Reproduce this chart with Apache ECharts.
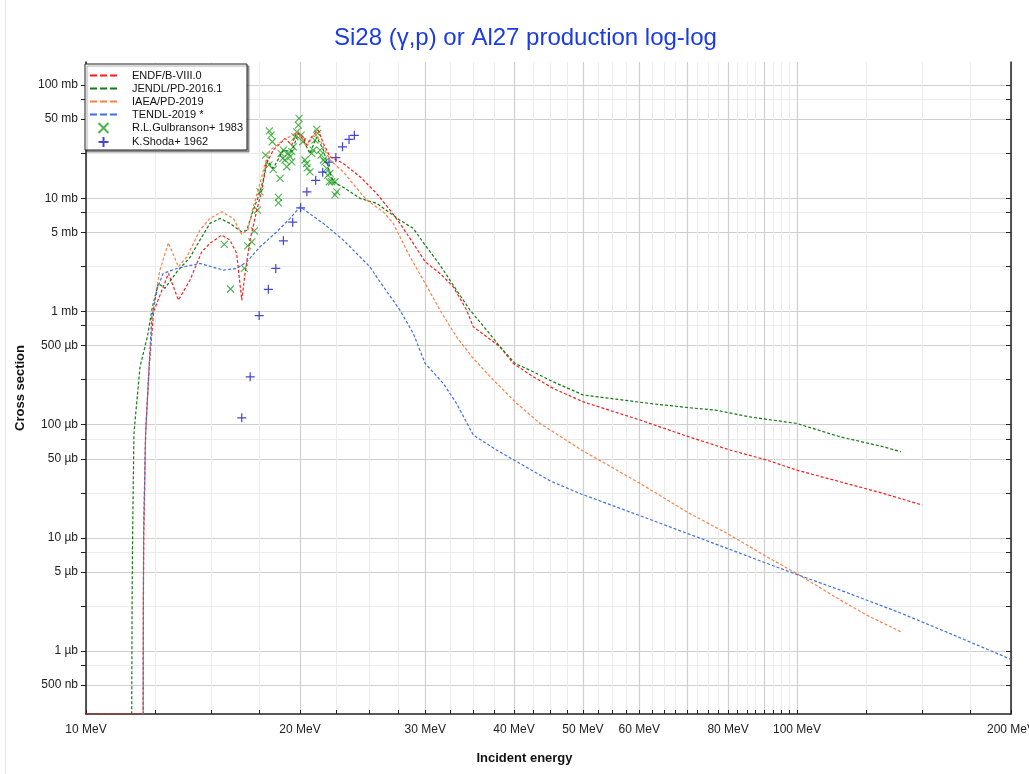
<!DOCTYPE html>
<html>
<head>
<meta charset="utf-8">
<script src="https://cdn.jsdelivr.net/npm/echarts@6/dist/echarts.min.js"></script>
<style>
html,body{margin:0;padding:0;background:#fff;}
#wrap{position:relative;width:1029px;height:774px;}
#chart{width:1029px;height:774px;}
#edge{position:absolute;left:5px;top:0;width:1px;height:774px;background:#e6e6e6;}
</style>
</head>
<body>
<div id="wrap"><div id="chart"></div><div id="edge"></div></div>
<script>
// ---- axis ticks / labels ----
const xLabelVals = [10, 20, 30, 40, 50, 60, 80, 100, 200];
const xMajorGrid = [10, 20, 30, 40, 50, 60, 70, 80, 90, 100, 200];
const xMinorTicks = [10, 12.5, 15, 17.5, 20, 22.5, 25, 27.5, 30, 32.5, 35, 37.5, 40, 42.5, 45, 47.5,
  50, 52.5, 55, 57.5, 60, 62.5, 65, 67.5, 70, 72.5, 75, 77.5, 80, 82.5, 85, 87.5, 90, 92.5, 95, 97.5,
  100, 125, 150, 175, 200];
const yLabelVals = [100, 50, 10, 5, 1, 0.5, 0.1, 0.05, 0.01, 0.005, 0.001, 0.0005];
const yMajorGrid = [100, 50, 10, 5, 1, 0.5, 0.1, 0.05, 0.01, 0.005, 0.001, 0.0005];
const yMinorTicks = [100, 75, 50, 25, 10, 7.5, 5, 2.5, 1, 0.75, 0.5, 0.25, 0.1, 0.075, 0.05, 0.025,
  0.01, 0.0075, 0.005, 0.0025, 0.001, 0.00075, 0.0005];
const xMin = 10, xMax = 200;
const yMin = 0.000278, yMax = 160;   // cross section in mb

// ---- series data: [energy MeV, cross section mb] ----
const endf = [[10, 0.000278], [12.0, 0.000278], [12.03, 0.0001], [12.04, 0.0028], [12.06, 0.011], [12.13, 0.084],
  [12.27, 0.323], [12.45, 1.0], [13.06, 2.17], [13.49, 1.26], [14.0, 1.89], [14.55, 3.37], [14.94, 4.0],
  [15.52, 4.73], [15.94, 4.27], [16.29, 3.26], [16.56, 1.26], [16.74, 2.18], [17.01, 4.27], [17.39, 7.87],
  [17.67, 11.8], [17.95, 20.3], [18.34, 26.7], [18.75, 30.5], [19.05, 33.8], [19.47, 29.5], [19.79, 38.7],
  [20.21, 34.9], [20.43, 29.5], [20.77, 34.9], [21.22, 40.0], [21.57, 30.5], [22.04, 23.3], [23.01, 20.3],
  [24.29, 15.5], [25.64, 11.0], [26.77, 7.87], [27.64, 6.0], [28.86, 4.0], [29.99, 2.75], [31.47, 2.17],
  [32.86, 1.65], [34.3, 1.03], [35.05, 0.733], [36.61, 0.598], [38.22, 0.488], [39.9, 0.348], [42.57, 0.265],
  [45.41, 0.209], [50.05, 0.159], [60.14, 0.110], [69.96, 0.0793], [80.5, 0.0597], [90.7, 0.0487],
  [99.9, 0.0397], [115, 0.0313], [132.3, 0.0247], [150, 0.0195]];
const jendl = [[11.59, 0.0001], [11.61, 0.0028], [11.63, 0.011], [11.68, 0.084], [11.91, 0.323], [12.2, 0.6],
  [12.4, 1.1], [12.64, 1.77], [12.91, 1.6], [13.42, 2.24], [14.0, 3.0], [14.46, 4.27], [14.94, 6.0],
  [15.44, 6.64], [15.94, 6.0], [16.55, 5.06], [16.83, 5.2], [17.19, 7.86], [17.47, 10.3], [17.76, 14.5],
  [17.95, 21.8], [18.34, 18.4], [18.95, 26.7], [19.47, 25.8], [19.89, 37.4], [20.22, 32.7], [20.65, 24.9],
  [21.11, 34.9], [21.57, 26.7], [22.04, 16.6], [22.27, 14.0], [23.01, 12.5], [24.29, 9.98], [25.64, 9.02],
  [27.64, 6.41], [28.86, 5.42], [29.99, 3.86], [31.47, 2.57], [33.2, 1.545], [34.68, 1.028], [36.61, 0.685],
  [38.22, 0.488], [40.13, 0.348], [42.12, 0.303], [45.41, 0.239], [50.05, 0.183], [62.1, 0.154],
  [69.96, 0.142], [77.1, 0.134], [85.9, 0.117], [99.9, 0.1026], [115, 0.0781], [132.3, 0.0638], [140, 0.0576]];
const iaea = [[12.03, 0.0001], [12.05, 0.011], [12.13, 0.084], [12.27, 0.33], [12.4, 0.96], [12.7, 2.3],
  [13.06, 4.05], [13.49, 2.48], [13.86, 3.04], [14.46, 5.24], [14.94, 6.64], [15.52, 7.6], [16.12, 6.64],
  [16.56, 4.8], [16.9, 5.3], [17.19, 8.41], [17.57, 13.5], [17.86, 20.3], [18.15, 26.7], [18.55, 29.5],
  [18.95, 32.7], [19.89, 38.7], [20.43, 28.5], [20.99, 37.4], [21.45, 30.5], [22.04, 21.8], [23.01, 17.1],
  [23.51, 14.5], [24.82, 9.64], [26.19, 7.6], [27.05, 6.0], [27.64, 4.57], [28.56, 3.04], [29.99, 1.77],
  [31.47, 1.028], [33.2, 0.598], [35.05, 0.385], [37.41, 0.248], [40.35, 0.154], [43.5, 0.1026],
  [49.6, 0.0605], [60.14, 0.0303], [69.96, 0.0170], [80.5, 0.0106], [90.7, 0.00681], [99.9, 0.00485],
  [115, 0.00283], [125.3, 0.00208], [140, 0.00148]];
const tendl = [[12.03, 0.0001], [12.05, 0.011], [12.13, 0.084], [12.27, 0.33], [12.37, 0.87], [12.6, 1.6],
  [12.84, 2.17], [13.42, 2.40], [14.46, 2.66], [15.6, 2.32], [16.29, 2.40], [16.83, 2.75], [17.57, 3.73],
  [18.55, 5.06], [19.36, 6.64], [20.0, 8.41], [21.57, 6.0], [23.01, 4.27], [25.08, 2.48], [25.91, 1.83],
  [27.64, 1.028], [28.86, 0.641], [29.99, 0.348], [31.8, 0.232], [33.2, 0.154], [35.05, 0.081], [37.8, 0.0597],
  [44.94, 0.0319], [49.73, 0.0244], [60.14, 0.0157], [69.96, 0.0110], [80.5, 0.0079], [90.7, 0.00595],
  [99.9, 0.00476], [115, 0.00346], [139.6, 0.00218], [164.1, 0.00143], [200, 0.000845]];
const gulbranson = [[15.65, 3.91], [15.97, 1.58], [16.70, 2.40], [16.88, 3.80], [17.11, 4.13], [17.25, 5.16],
  [17.42, 7.87], [17.57, 11.4], [17.89, 24.1], [18.11, 39.5], [18.21, 36.2], [18.28, 31.6], [18.09, 19.7],
  [18.34, 18.0], [18.75, 15.0], [18.65, 10.2], [18.65, 9.13], [18.81, 24.9], [18.95, 26.7], [18.91, 22.5],
  [19.05, 21.8], [19.16, 19.0], [19.25, 24.9], [19.36, 23.3], [19.47, 25.8], [19.57, 28.5], [19.47, 21.0],
  [19.68, 34.9], [19.79, 38.7], [19.89, 44.3], [19.94, 50.8], [20.07, 36.2], [20.18, 31.6], [20.32, 21.8],
  [20.43, 20.3], [20.47, 18.6], [20.65, 17.1], [20.77, 24.9], [20.88, 26.7], [20.99, 32.7], [21.11, 40.6],
  [21.18, 37.4], [21.34, 26.7], [21.41, 24.1], [21.57, 21.8], [21.68, 21.0], [21.80, 18.4], [21.88, 16.0],
  [22.04, 16.6], [21.99, 14.0], [22.16, 14.0], [22.40, 14.0], [22.53, 11.4], [22.40, 10.7]];
const shoda = [[16.56, 0.115], [17.02, 0.265], [17.52, 0.920], [18.05, 1.57], [18.49, 2.40], [18.95, 4.21],
  [19.53, 6.15], [20.04, 8.24], [20.45, 11.4], [21.04, 14.4], [21.52, 17.0], [21.97, 20.9], [22.46, 22.9],
  [22.95, 28.5], [23.44, 33.1], [23.85, 36.0]];

const FONT = '"Liberation Sans", Arial, Helvetica, sans-serif';
function yFmt(v) {
  if (v >= 1) return Math.round(v) + ' mb';
  if (v >= 0.001) return Math.round(v * 1000) + ' \u00b5b';
  return Math.round(v * 1e6) + ' nb';
}
const DASH_ICON = 'path://M0,0L7,0L7,2L0,2Z M10,0L17,0L17,2L10,2Z M20,0L27,0L27,2L20,2Z';
const lineW = 1.2, dash = [3, 2];
function lineSeries(name, data, color) {
  return {
    name, type: 'line', data, xAxisIndex: 0, yAxisIndex: 0, showSymbol: false, symbol: 'none',
    smooth: false, clip: true, animation: false,
    lineStyle: {color, width: lineW, type: dash},
    itemStyle: {color}
  };
}
const chart = echarts.init(document.getElementById('chart'), null, {renderer: 'canvas'});
const option = {
  animation: false,
  backgroundColor: '#ffffff',
  textStyle: {fontFamily: FONT},
  title: {
    text: 'Si28 (\u03b3,p) or Al27 production log-log',
    left: 329, top: 21,
    textStyle: {fontSize: 24, fontWeight: 'normal', color: '#1a3ae6', fontFamily: FONT}
  },
  grid: {left: 86, right: 18, top: 62, bottom: 60, containLabel: false, outerBoundsMode: 'none'},
  legend: {
    orient: 'vertical', left: 85, top: 64,
    backgroundColor: '#ffffff', borderColor: '#222', borderWidth: 1,
    shadowColor: 'rgba(0,0,0,0.35)', shadowOffsetX: 2, shadowOffsetY: 2, shadowBlur: 1,
    padding: [6, 4, 2, 5], itemWidth: 27, itemHeight: 10, itemGap: 2,
    symbolKeepAspect: true,
    textStyle: {fontSize: 11, color: '#111', fontFamily: FONT, padding: [0, 0, 0, 10]},
    data: [
      {name: 'ENDF/B-VIII.0', icon: DASH_ICON},
      {name: 'JENDL/PD-2016.1', icon: DASH_ICON},
      {name: 'IAEA/PD-2019', icon: DASH_ICON},
      {name: 'TENDL-2019 *', icon: DASH_ICON},
      {name: 'R.L.Gulbranson+ 1983'},
      {name: 'K.Shoda+ 1962'}
    ]
  },
  xAxis: [
    {
      type: 'log', logBase: 10, min: xMin, max: xMax, position: 'bottom',
      name: 'Incident energy', nameLocation: 'middle', nameGap: 38,
      nameTextStyle: {fontSize: 13, fontWeight: 'bold', color: '#111', padding: [0, 48, 0, 0]},
      axisLine: {show: true, lineStyle: {color: '#222', width: 1.5}},
      axisTick: {show: true, inside: true, length: 4, customValues: xMinorTicks, lineStyle: {color: '#222'}},
      axisLabel: {customValues: xLabelVals, formatter: v => Math.round(v) + ' MeV', color: '#222', fontSize: 12, margin: 10, hideOverlap: false},
      splitLine: {show: true, lineStyle: {color: '#ececec', width: 1}},
      minorTick: {show: false}, minorSplitLine: {show: false}
    },
    {
      type: 'log', logBase: 10, min: xMin, max: xMax, position: 'top',
      axisLine: {show: false},
      axisTick: {show: false, customValues: xMajorGrid},
      axisLabel: {show: false},
      splitLine: {show: true, lineStyle: {color: '#cfcfcf', width: 1.2}}
    }
  ],
  yAxis: [
    {
      type: 'log', logBase: 10, min: yMin, max: yMax, position: 'left',
      name: 'Cross section', nameLocation: 'middle', nameGap: 51, nameRotate: 90,
      nameTextStyle: {fontSize: 13, fontWeight: 'bold', color: '#111'},
      axisLine: {show: true, lineStyle: {color: '#222', width: 1.5}},
      axisTick: {show: true, inside: false, length: 5, customValues: yMinorTicks, lineStyle: {color: '#222'}},
      axisLabel: {customValues: yLabelVals, formatter: yFmt, color: '#222', fontSize: 12, margin: 8},
      splitLine: {show: true, lineStyle: {color: '#ececec', width: 1}}
    },
    {
      type: 'log', logBase: 10, min: yMin, max: yMax, position: 'right',
      axisLine: {show: true, lineStyle: {color: '#222', width: 1.5}},
      axisTick: {show: true, inside: true, length: 5, customValues: yMinorTicks, lineStyle: {color: '#222'}},
      axisLabel: {show: false},
      splitLine: {show: false}
    },
    {
      type: 'log', logBase: 10, min: yMin, max: yMax, position: 'right',
      axisLine: {show: false},
      axisTick: {show: false, customValues: yMajorGrid},
      axisLabel: {show: false},
      splitLine: {show: true, lineStyle: {color: '#cfcfcf', width: 1.2}}
    }
  ],
  series: [
    lineSeries('ENDF/B-VIII.0', endf, '#ff1a1a'),
    lineSeries('JENDL/PD-2016.1', jendl, '#137a13'),
    lineSeries('IAEA/PD-2019', iaea, '#ff7f45'),
    lineSeries('TENDL-2019 *', tendl, '#3f6fe6'),
    {
      name: 'R.L.Gulbranson+ 1983', type: 'scatter', data: gulbranson, xAxisIndex: 0, yAxisIndex: 0,
      symbol: 'path://M0,0L10,10M10,0L0,10', symbolSize: 7,
      itemStyle: {color: 'rgba(0,0,0,0)', borderColor: '#1fa01f', borderWidth: 1.1}
    },
    {
      name: 'K.Shoda+ 1962', type: 'scatter', data: shoda, xAxisIndex: 0, yAxisIndex: 0,
      symbol: 'path://M5,0L5,10M0,5L10,5', symbolSize: 9,
      itemStyle: {color: 'rgba(0,0,0,0)', borderColor: '#1616c0', borderWidth: 1.2}
    }
  ]
};
chart.setOption(option);
</script>
</body>
</html>
